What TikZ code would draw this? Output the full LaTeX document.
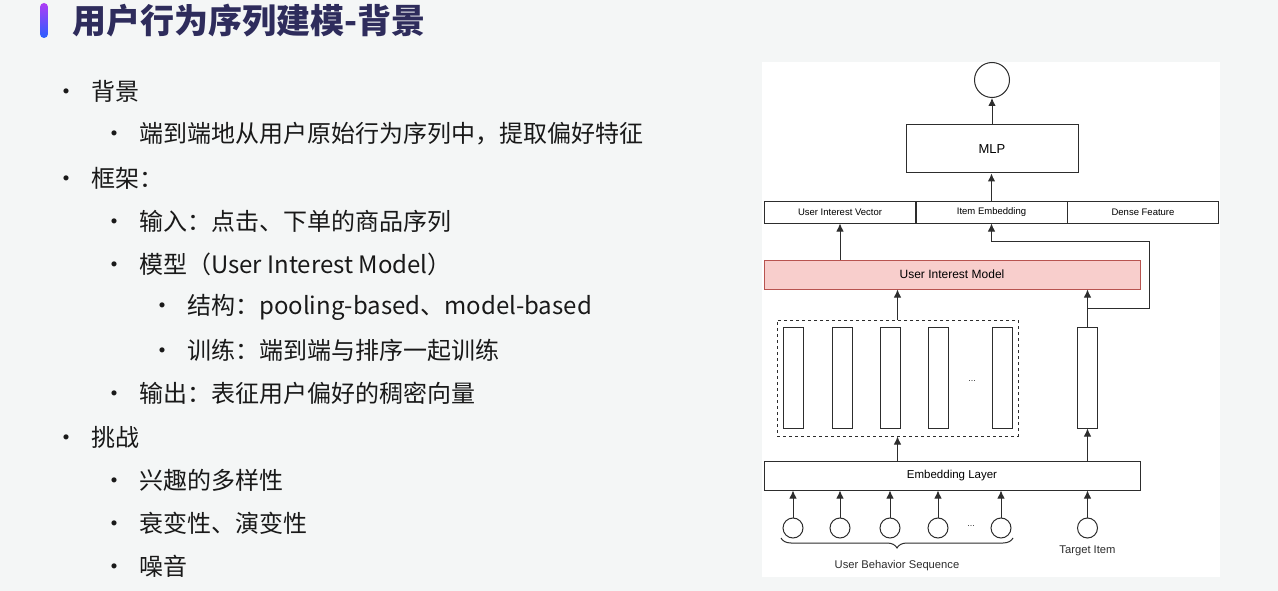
\documentclass[tikz,border=0pt]{standalone}
\usepackage{fontspec}
\setmainfont{Noto Sans CJK SC}
\newfontfamily\diafont{Liberation Sans}
\usetikzlibrary{arrows.meta,decorations.pathreplacing,positioning}
\definecolor{slidebg}{RGB}{244,246,246}
\definecolor{titlenavy}{RGB}{46,44,92}
\definecolor{bodyblk}{RGB}{25,25,25}
\definecolor{uimfill}{RGB}{248,206,204}
\definecolor{uimline}{RGB}{184,84,80}
\definecolor{lineblk}{RGB}{45,45,45}
\definecolor{accpurple}{RGB}{175,60,245}
\definecolor{accblue}{RGB}{40,95,255}
\newcommand{\bul}{\makebox[50pt]{\fontsize{24}{24}\selectfont\textbullet}}

\begin{document}
\begin{tikzpicture}[x=1pt, y=-1pt,
        box/.style={draw=lineblk, line width=1pt, fill=white, inner sep=0pt, align=center, font=\diafont\fontsize{11.5}{12}\selectfont},
        cell/.style={box, minimum width=151pt, minimum height=21pt, font=\diafont\fontsize{9.5}{10}\selectfont},
        bar/.style={draw=lineblk, line width=1pt, minimum width=20pt, minimum height=101pt, inner sep=0pt},
        dot/.style={circle, draw=lineblk, line width=1pt, fill=white, minimum size=20pt, inner sep=0pt},
        arrow/.style={-{Latex[length=8pt,width=7.5pt]}, line width=1pt, draw=lineblk},
        lbl/.style={inner sep=0pt, font=\diafont\fontsize{11.2}{12}\selectfont, text=lineblk},
        lvla/.style={anchor=west, inner sep=0pt, text=bodyblk, font=\fontsize{24}{24}\selectfont},
        lvlb/.style={lvla},
        lvlc/.style={lvla}
    ]
        % Slide background and figure panel
        \fill[slidebg] (0,0) rectangle (1278,591);
        \fill[white] (762,62) rectangle (1220,577);

        % Title
        \shade[top color=accpurple, bottom color=accblue, rounded corners=4pt] (40,3) rectangle (48,38);
        \node[anchor=west, inner sep=0pt, text=titlenavy, font=\bfseries\fontsize{34}{34}\selectfont] (title) at (72,21) {用户行为序列建模-背景};

        % Bullet list
        \node[lvla] (bg) at (41,91) {\bul 背景};
        \node[lvlb] (bg1) at (89,134) {\bul 端到端地从用户原始行为序列中，提取偏好特征};
        \node[lvla] (fw) at (41,178) {\bul 框架：};
        \node[lvlb] (fw1) at (89,221) {\bul 输入：点击、下单的商品序列};
        \node[lvlb] (fw2) at (89,264) {\bul 模型（User Interest Model）};
        \node[lvlc] (fw21) at (137,307) {\bul 结构：pooling-based、model-based};
        \node[lvlc] (fw22) at (137,350) {\bul 训练：端到端与排序一起训练};
        \node[lvlb] (fw3) at (89,393) {\bul 输出：表征用户偏好的稠密向量};
        \node[lvla] (ch) at (41,437) {\bul 挑战};
        \node[lvlb] (ch1) at (89,480) {\bul 兴趣的多样性};
        \node[lvlb] (ch2) at (89,523) {\bul 衰变性、演变性};
        \node[lvlb] (ch3) at (89,566) {\bul 噪音};

        % Output and MLP
        \node[dot, minimum size=35pt] (out) at (992,80) {};
        \node[box, minimum width=172pt, minimum height=48pt, font=\diafont\fontsize{13}{14}\selectfont] (mlp) at (992,149) {MLP};

        % Feature row
        \node[cell] (vec) at (840,212.5) {User Interest Vector};
        \node[cell] (item) at (991.5,212.5) {Item Embedding};
        \node[cell] (dense) at (1143,212.5) {Dense Feature};

        % User Interest Model
        \node[box, minimum width=376pt, minimum height=29pt, fill=uimfill, draw=uimline, font=\diafont\fontsize{12}{13}\selectfont] (uim) at (952,274.5) {User Interest Model};

        % Behavior embeddings
        \node[draw=lineblk, line width=1pt, dashed, minimum width=241pt, minimum height=116pt, inner sep=0pt] (seq) at (897.5,378) {};
        \foreach \i/\x in {1/793, 2/842, 3/890, 4/938, 5/1002}
            \node[bar] (bar\i) at (\x,377.5) {};
        \node[lbl, font=\diafont\fontsize{9}{10}\selectfont] (bardots) at (972,381) {...};
        \node[bar] (tbar) at (1087.5,377.5) {};

        % Embedding Layer
        \node[box, minimum width=376pt, minimum height=29pt] (emb) at (952,475.5) {Embedding Layer};

        % Inputs
        \foreach \i/\x in {1/793, 2/840, 3/890, 4/938, 5/1001}
            \node[dot] (in\i) at (\x,528) {};
        \node[lbl, font=\diafont\fontsize{9}{10}\selectfont] (indots) at (971,526) {...};
        \node[dot] (tin) at (1087.5,528) {};

        % Labels
        \draw[lineblk, line width=1pt, decorate, decoration={brace, mirror, amplitude=10pt}] (781,538) -- (1013,538);
        \node[lbl] (seqlbl) at (897,566) {User Behavior Sequence};
        \node[lbl] (tgtlbl) at (1087.5,551) {Target Item};

        % Connectors
        \foreach \i in {1,...,5}
            \draw[arrow] (in\i) -- (in\i |- emb.south);
        \draw[arrow] (tin) -- (tin |- emb.south);
        \draw[arrow] (seq.south |- emb.north) -- (seq.south);
        \draw[arrow] (tbar.south |- emb.north) -- (tbar.south);
        \draw[arrow] (seq.north) -- (seq.north |- uim.south);
        \coordinate (split) at (1087.5,308);
        \coordinate (turn) at (1149,241);
        \draw[line width=1pt, lineblk] (tbar.north) -- (split);
        \draw[arrow] (split) -- (split |- uim.south);
        \draw[arrow] (split) -| (turn) -| (item.south);
        \draw[arrow] (vec.south |- uim.north) -- (vec.south);
        \draw[arrow] (item.north) -- (item.north |- mlp.south);
        \draw[arrow] (mlp.north) -- (out.south);
    \end{tikzpicture}
\end{document}
